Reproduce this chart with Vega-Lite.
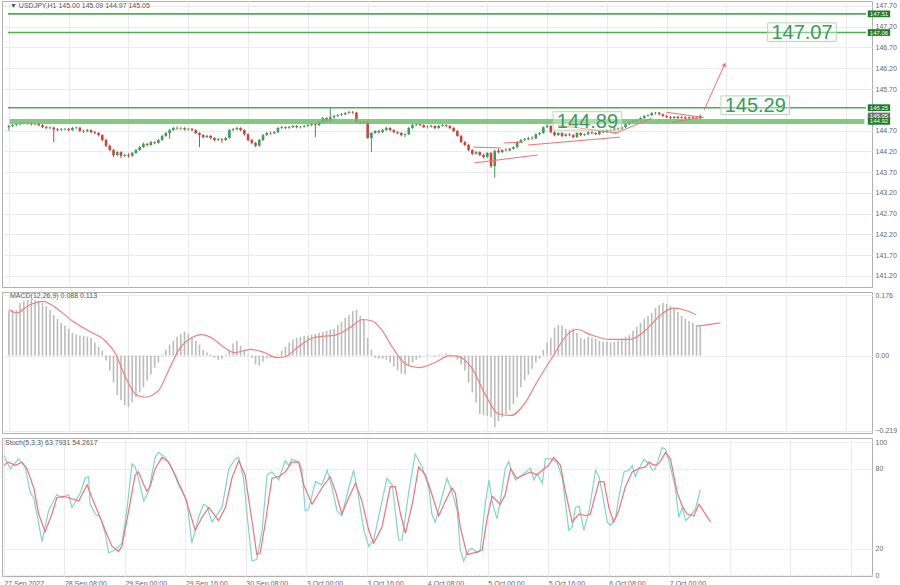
{
"$schema": "https://vega.github.io/schema/vega-lite/v6.json",
"padding": 0,
"background": "white",
"spacing": 2,
"config": {"view": {"stroke": "#b0b0b0", "strokeWidth": 1}, "font": "Liberation Sans", "axis": {"labelOverlap": false}},
"datasets": {
"candles": [
{"i":0,"o":144.78,"h":144.84,"l":144.70,"c":144.81},{"i":1,"o":144.81,"h":144.86,"l":144.78,"c":144.83},{"i":2,"o":144.83,"h":144.88,"l":144.80,"c":144.85},{"i":3,"o":144.85,"h":144.91,"l":144.83,"c":144.88},{"i":4,"o":144.88,"h":144.92,"l":144.85,"c":144.87},
{"i":5,"o":144.87,"h":144.91,"l":144.84,"c":144.88},{"i":6,"o":144.88,"h":144.90,"l":144.82,"c":144.85},{"i":7,"o":144.85,"h":144.88,"l":144.82,"c":144.86},{"i":8,"o":144.86,"h":144.88,"l":144.80,"c":144.83},{"i":9,"o":144.83,"h":144.85,"l":144.76,"c":144.78},
{"i":10,"o":144.78,"h":144.81,"l":144.73,"c":144.76},{"i":11,"o":144.76,"h":144.80,"l":144.72,"c":144.77},{"i":12,"o":144.77,"h":144.79,"l":144.42,"c":144.73},{"i":13,"o":144.73,"h":144.76,"l":144.68,"c":144.71},{"i":14,"o":144.71,"h":144.76,"l":144.69,"c":144.73},
{"i":15,"o":144.73,"h":144.76,"l":144.70,"c":144.74},{"i":16,"o":144.74,"h":144.76,"l":144.68,"c":144.71},{"i":17,"o":144.71,"h":144.79,"l":144.69,"c":144.76},{"i":18,"o":144.76,"h":144.80,"l":144.73,"c":144.77},{"i":19,"o":144.77,"h":144.78,"l":144.66,"c":144.69},
{"i":20,"o":144.69,"h":144.72,"l":144.64,"c":144.68},{"i":21,"o":144.68,"h":144.74,"l":144.66,"c":144.71},{"i":22,"o":144.71,"h":144.73,"l":144.63,"c":144.66},{"i":23,"o":144.66,"h":144.69,"l":144.61,"c":144.64},{"i":24,"o":144.64,"h":144.66,"l":144.56,"c":144.59},
{"i":25,"o":144.59,"h":144.61,"l":144.44,"c":144.47},{"i":26,"o":144.47,"h":144.50,"l":144.30,"c":144.33},{"i":27,"o":144.33,"h":144.36,"l":144.20,"c":144.23},{"i":28,"o":144.23,"h":144.26,"l":144.06,"c":144.11},{"i":29,"o":144.11,"h":144.20,"l":144.08,"c":144.18},
{"i":30,"o":144.18,"h":144.20,"l":144.03,"c":144.09},{"i":31,"o":144.09,"h":144.14,"l":144.06,"c":144.11},{"i":32,"o":144.11,"h":144.15,"l":144.05,"c":144.09},{"i":33,"o":144.09,"h":144.18,"l":144.07,"c":144.16},{"i":34,"o":144.16,"h":144.26,"l":144.14,"c":144.23},
{"i":35,"o":144.23,"h":144.33,"l":144.21,"c":144.30},{"i":36,"o":144.30,"h":144.41,"l":144.28,"c":144.38},{"i":37,"o":144.38,"h":144.40,"l":144.32,"c":144.35},{"i":38,"o":144.35,"h":144.45,"l":144.33,"c":144.42},{"i":39,"o":144.42,"h":144.44,"l":144.37,"c":144.40},
{"i":40,"o":144.40,"h":144.50,"l":144.38,"c":144.47},{"i":41,"o":144.47,"h":144.60,"l":144.45,"c":144.57},{"i":42,"o":144.57,"h":144.67,"l":144.55,"c":144.64},{"i":43,"o":144.64,"h":144.74,"l":144.50,"c":144.71},{"i":44,"o":144.71,"h":144.79,"l":144.69,"c":144.76},
{"i":45,"o":144.76,"h":144.80,"l":144.72,"c":144.75},{"i":46,"o":144.75,"h":144.79,"l":144.71,"c":144.76},{"i":47,"o":144.76,"h":144.78,"l":144.70,"c":144.73},{"i":48,"o":144.73,"h":144.76,"l":144.70,"c":144.74},{"i":49,"o":144.74,"h":144.76,"l":144.68,"c":144.71},
{"i":50,"o":144.71,"h":144.73,"l":144.61,"c":144.64},{"i":51,"o":144.64,"h":144.66,"l":144.30,"c":144.59},{"i":52,"o":144.59,"h":144.61,"l":144.51,"c":144.54},{"i":53,"o":144.54,"h":144.60,"l":144.52,"c":144.57},{"i":54,"o":144.57,"h":144.59,"l":144.49,"c":144.52},
{"i":55,"o":144.52,"h":144.54,"l":144.44,"c":144.47},{"i":56,"o":144.47,"h":144.52,"l":144.45,"c":144.49},{"i":57,"o":144.49,"h":144.51,"l":144.40,"c":144.47},{"i":58,"o":144.47,"h":144.55,"l":144.45,"c":144.52},{"i":59,"o":144.52,"h":144.74,"l":144.50,"c":144.71},
{"i":60,"o":144.71,"h":144.76,"l":144.68,"c":144.73},{"i":61,"o":144.73,"h":144.79,"l":144.71,"c":144.76},{"i":62,"o":144.76,"h":144.78,"l":144.68,"c":144.71},{"i":63,"o":144.71,"h":144.73,"l":144.58,"c":144.61},{"i":64,"o":144.61,"h":144.63,"l":144.44,"c":144.47},
{"i":65,"o":144.47,"h":144.50,"l":144.37,"c":144.40},{"i":66,"o":144.40,"h":144.42,"l":144.30,"c":144.33},{"i":67,"o":144.33,"h":144.50,"l":144.31,"c":144.47},{"i":68,"o":144.47,"h":144.62,"l":144.45,"c":144.59},{"i":69,"o":144.59,"h":144.67,"l":144.57,"c":144.64},
{"i":70,"o":144.64,"h":144.67,"l":144.60,"c":144.63},{"i":71,"o":144.63,"h":144.69,"l":144.61,"c":144.66},{"i":72,"o":144.66,"h":144.79,"l":144.64,"c":144.76},{"i":73,"o":144.76,"h":144.81,"l":144.74,"c":144.78},{"i":74,"o":144.78,"h":144.80,"l":144.73,"c":144.76},
{"i":75,"o":144.76,"h":144.81,"l":144.74,"c":144.78},{"i":76,"o":144.78,"h":144.83,"l":144.76,"c":144.81},{"i":77,"o":144.81,"h":144.83,"l":144.75,"c":144.78},{"i":78,"o":144.78,"h":144.81,"l":144.75,"c":144.79},{"i":79,"o":144.79,"h":144.84,"l":144.77,"c":144.81},
{"i":80,"o":144.81,"h":144.86,"l":144.79,"c":144.83},{"i":81,"o":144.83,"h":144.88,"l":144.81,"c":144.85},{"i":82,"o":144.85,"h":144.87,"l":144.54,"c":144.83},{"i":83,"o":144.83,"h":144.93,"l":144.81,"c":144.90},{"i":84,"o":144.90,"h":145.03,"l":144.88,"c":145.00},
{"i":85,"o":145.00,"h":145.02,"l":144.90,"c":144.93},{"i":86,"o":144.93,"h":145.26,"l":144.90,"c":145.02},{"i":87,"o":145.02,"h":145.08,"l":144.98,"c":145.05},{"i":88,"o":145.05,"h":145.10,"l":145.03,"c":145.07},{"i":89,"o":145.07,"h":145.12,"l":145.05,"c":145.09},
{"i":90,"o":145.09,"h":145.15,"l":145.07,"c":145.12},{"i":91,"o":145.12,"h":145.18,"l":145.10,"c":145.14},{"i":92,"o":145.14,"h":145.17,"l":145.10,"c":145.13},{"i":93,"o":145.13,"h":145.15,"l":144.88,"c":144.90},{"i":94,"o":144.90,"h":144.93,"l":144.85,"c":144.88},
{"i":95,"o":144.88,"h":144.92,"l":144.85,"c":144.90},{"i":96,"o":144.90,"h":144.92,"l":144.50,"c":144.52},{"i":97,"o":144.52,"h":144.66,"l":144.18,"c":144.64},{"i":98,"o":144.64,"h":144.71,"l":144.62,"c":144.69},{"i":99,"o":144.69,"h":144.72,"l":144.63,"c":144.66},
{"i":100,"o":144.66,"h":144.74,"l":144.64,"c":144.71},{"i":101,"o":144.71,"h":144.79,"l":144.69,"c":144.76},{"i":102,"o":144.76,"h":144.78,"l":144.68,"c":144.71},{"i":103,"o":144.71,"h":144.73,"l":144.63,"c":144.66},{"i":104,"o":144.66,"h":144.68,"l":144.61,"c":144.64},
{"i":105,"o":144.64,"h":144.66,"l":144.56,"c":144.59},{"i":106,"o":144.59,"h":144.63,"l":144.54,"c":144.61},{"i":107,"o":144.61,"h":144.79,"l":144.59,"c":144.76},{"i":108,"o":144.76,"h":144.86,"l":144.74,"c":144.83},{"i":109,"o":144.83,"h":144.88,"l":144.81,"c":144.85},
{"i":110,"o":144.85,"h":144.87,"l":144.80,"c":144.83},{"i":111,"o":144.83,"h":144.85,"l":144.76,"c":144.78},{"i":112,"o":144.78,"h":144.82,"l":144.75,"c":144.79},{"i":113,"o":144.79,"h":144.84,"l":144.77,"c":144.81},{"i":114,"o":144.81,"h":144.83,"l":144.73,"c":144.76},
{"i":115,"o":144.76,"h":144.84,"l":144.74,"c":144.81},{"i":116,"o":144.81,"h":144.86,"l":144.79,"c":144.83},{"i":117,"o":144.83,"h":144.85,"l":144.78,"c":144.81},{"i":118,"o":144.81,"h":144.83,"l":144.73,"c":144.76},{"i":119,"o":144.76,"h":144.78,"l":144.66,"c":144.69},
{"i":120,"o":144.69,"h":144.71,"l":144.55,"c":144.57},{"i":121,"o":144.57,"h":144.59,"l":144.40,"c":144.42},{"i":122,"o":144.42,"h":144.45,"l":144.32,"c":144.35},{"i":123,"o":144.35,"h":144.38,"l":144.20,"c":144.23},{"i":124,"o":144.23,"h":144.25,"l":144.11,"c":144.14},
{"i":125,"o":144.14,"h":144.21,"l":144.12,"c":144.18},{"i":126,"o":144.18,"h":144.20,"l":144.08,"c":144.11},{"i":127,"o":144.11,"h":144.14,"l":144.03,"c":144.06},{"i":128,"o":144.06,"h":144.18,"l":144.04,"c":144.16},{"i":129,"o":144.16,"h":144.18,"l":143.80,"c":143.84},
{"i":130,"o":143.84,"h":144.24,"l":143.56,"c":144.21},{"i":131,"o":144.21,"h":144.26,"l":144.15,"c":144.18},{"i":132,"o":144.18,"h":144.25,"l":144.16,"c":144.23},{"i":133,"o":144.23,"h":144.28,"l":144.20,"c":144.22},{"i":134,"o":144.22,"h":144.28,"l":144.20,"c":144.26},
{"i":135,"o":144.26,"h":144.32,"l":144.24,"c":144.30},{"i":136,"o":144.30,"h":144.45,"l":144.28,"c":144.42},{"i":137,"o":144.42,"h":144.50,"l":144.40,"c":144.47},{"i":138,"o":144.47,"h":144.52,"l":144.44,"c":144.49},{"i":139,"o":144.49,"h":144.55,"l":144.47,"c":144.52},
{"i":140,"o":144.52,"h":144.56,"l":144.48,"c":144.51},{"i":141,"o":144.51,"h":144.63,"l":144.49,"c":144.61},{"i":142,"o":144.61,"h":144.66,"l":144.58,"c":144.64},{"i":143,"o":144.64,"h":144.80,"l":144.62,"c":144.78},{"i":144,"o":144.78,"h":144.86,"l":144.76,"c":144.81},
{"i":145,"o":144.81,"h":144.83,"l":144.63,"c":144.66},{"i":146,"o":144.66,"h":144.68,"l":144.56,"c":144.59},{"i":147,"o":144.59,"h":144.66,"l":144.57,"c":144.64},{"i":148,"o":144.64,"h":144.66,"l":144.54,"c":144.57},{"i":149,"o":144.57,"h":144.63,"l":144.55,"c":144.61},
{"i":150,"o":144.61,"h":144.63,"l":144.56,"c":144.59},{"i":151,"o":144.59,"h":144.61,"l":144.51,"c":144.54},{"i":152,"o":144.54,"h":144.66,"l":144.52,"c":144.64},{"i":153,"o":144.64,"h":144.66,"l":144.56,"c":144.59},{"i":154,"o":144.59,"h":144.63,"l":144.57,"c":144.61},
{"i":155,"o":144.61,"h":144.68,"l":144.59,"c":144.66},{"i":156,"o":144.66,"h":144.68,"l":144.61,"c":144.64},{"i":157,"o":144.64,"h":144.66,"l":144.59,"c":144.61},{"i":158,"o":144.61,"h":144.71,"l":144.59,"c":144.69},{"i":159,"o":144.69,"h":144.71,"l":144.63,"c":144.66},
{"i":160,"o":144.66,"h":144.73,"l":144.64,"c":144.71},{"i":161,"o":144.71,"h":144.74,"l":144.68,"c":144.70},{"i":162,"o":144.70,"h":144.78,"l":144.68,"c":144.76},{"i":163,"o":144.76,"h":144.78,"l":144.71,"c":144.73},{"i":164,"o":144.73,"h":144.80,"l":144.71,"c":144.78},
{"i":165,"o":144.78,"h":144.87,"l":144.76,"c":144.85},{"i":166,"o":144.85,"h":144.92,"l":144.83,"c":144.90},{"i":167,"o":144.90,"h":144.95,"l":144.88,"c":144.93},{"i":168,"o":144.93,"h":144.97,"l":144.90,"c":144.95},{"i":169,"o":144.95,"h":145.02,"l":144.93,"c":145.00},
{"i":170,"o":145.00,"h":145.07,"l":144.98,"c":145.05},{"i":171,"o":145.05,"h":145.09,"l":145.03,"c":145.07},{"i":172,"o":145.07,"h":145.15,"l":145.05,"c":145.12},{"i":173,"o":145.12,"h":145.15,"l":145.08,"c":145.13},{"i":174,"o":145.13,"h":145.15,"l":145.07,"c":145.09},
{"i":175,"o":145.09,"h":145.11,"l":145.03,"c":145.05},{"i":176,"o":145.05,"h":145.08,"l":145.00,"c":145.02},{"i":177,"o":145.02,"h":145.05,"l":144.97,"c":145.00},{"i":178,"o":145.00,"h":145.05,"l":144.98,"c":145.03},{"i":179,"o":145.03,"h":145.05,"l":144.97,"c":145.00},
{"i":180,"o":145.00,"h":145.05,"l":144.98,"c":145.02},{"i":181,"o":145.02,"h":145.04,"l":144.97,"c":144.99},{"i":182,"o":144.99,"h":145.04,"l":144.97,"c":145.02},{"i":183,"o":145.02,"h":145.04,"l":144.98,"c":145.00},{"i":184,"o":145.00,"h":145.03,"l":144.97,"c":145.00},
{"i":185,"o":145.00,"h":145.09,"l":144.97,"c":145.05}
],
"macd": [
{"i":0,"m":0.13},{"i":1,"m":0.133},{"i":2,"m":0.133},{"i":3,"m":0.153},{"i":4,"m":0.159},{"i":5,"m":0.162},{"i":6,"m":0.162},{"i":7,"m":0.162},{"i":8,"m":0.159},{"i":9,"m":0.153},
{"i":10,"m":0.144},{"i":11,"m":0.133},{"i":12,"m":0.118},{"i":13,"m":0.107},{"i":14,"m":0.095},{"i":15,"m":0.087},{"i":16,"m":0.078},{"i":17,"m":0.066},{"i":18,"m":0.061},{"i":19,"m":0.058},
{"i":20,"m":0.058},{"i":21,"m":0.055},{"i":22,"m":0.052},{"i":23,"m":0.038},{"i":24,"m":0.026},{"i":25,"m":0.014},{"i":26,"m":-0.014},{"i":27,"m":-0.043},{"i":28,"m":-0.078},{"i":29,"m":-0.115},
{"i":30,"m":-0.13},{"i":31,"m":-0.144},{"i":32,"m":-0.15},{"i":33,"m":-0.136},{"i":34,"m":-0.121},{"i":35,"m":-0.107},{"i":36,"m":-0.092},{"i":37,"m":-0.072},{"i":38,"m":-0.055},{"i":39,"m":-0.035},
{"i":40,"m":-0.02},{"i":41,"m":0.003},{"i":42,"m":0.017},{"i":43,"m":0.032},{"i":44,"m":0.043},{"i":45,"m":0.055},{"i":46,"m":0.063},{"i":47,"m":0.069},{"i":48,"m":0.063},{"i":49,"m":0.052},
{"i":50,"m":0.043},{"i":51,"m":0.032},{"i":52,"m":0.017},{"i":53,"m":0.009},{"i":54,"m":0.003},{"i":55,"m":-0.006},{"i":56,"m":-0.012},{"i":57,"m":-0.009},{"i":58,"m":0.003},{"i":59,"m":0.017},
{"i":60,"m":0.035},{"i":61,"m":0.043},{"i":62,"m":0.029},{"i":63,"m":0.017},{"i":64,"m":0.003},{"i":65,"m":-0.006},{"i":66,"m":-0.026},{"i":67,"m":-0.029},{"i":68,"m":-0.017},{"i":69,"m":-0.009},
{"i":70,"m":-0.006},{"i":71,"m":0.0},{"i":72,"m":0.003},{"i":73,"m":0.014},{"i":74,"m":0.026},{"i":75,"m":0.038},{"i":76,"m":0.046},{"i":77,"m":0.052},{"i":78,"m":0.055},{"i":79,"m":0.058},
{"i":80,"m":0.058},{"i":81,"m":0.061},{"i":82,"m":0.063},{"i":83,"m":0.066},{"i":84,"m":0.069},{"i":85,"m":0.072},{"i":86,"m":0.075},{"i":87,"m":0.078},{"i":88,"m":0.089},{"i":89,"m":0.098},
{"i":90,"m":0.11},{"i":91,"m":0.118},{"i":92,"m":0.13},{"i":93,"m":0.133},{"i":94,"m":0.115},{"i":95,"m":0.104},{"i":96,"m":0.052},{"i":97,"m":0.017},{"i":98,"m":-0.006},{"i":99,"m":-0.009},
{"i":100,"m":-0.009},{"i":101,"m":-0.012},{"i":102,"m":-0.02},{"i":103,"m":-0.032},{"i":104,"m":-0.043},{"i":105,"m":-0.052},{"i":106,"m":-0.055},{"i":107,"m":-0.029},{"i":108,"m":-0.02},{"i":109,"m":-0.012},
{"i":110,"m":-0.006},{"i":111,"m":0.0},{"i":112,"m":0.003},{"i":113,"m":0.0},{"i":114,"m":-0.003},{"i":115,"m":0.003},{"i":116,"m":0.003},{"i":117,"m":0.006},{"i":118,"m":0.003},{"i":119,"m":0.0},
{"i":120,"m":-0.012},{"i":121,"m":-0.026},{"i":122,"m":-0.043},{"i":123,"m":-0.078},{"i":124,"m":-0.107},{"i":125,"m":-0.136},{"i":126,"m":-0.17},{"i":127,"m":-0.173},{"i":128,"m":-0.176},{"i":129,"m":-0.179},
{"i":130,"m":-0.208},{"i":131,"m":-0.19},{"i":132,"m":-0.179},{"i":133,"m":-0.17},{"i":134,"m":-0.159},{"i":135,"m":-0.141},{"i":136,"m":-0.121},{"i":137,"m":-0.092},{"i":138,"m":-0.072},{"i":139,"m":-0.055},
{"i":140,"m":-0.038},{"i":141,"m":-0.02},{"i":142,"m":-0.009},{"i":143,"m":0.017},{"i":144,"m":0.038},{"i":145,"m":0.052},{"i":146,"m":0.081},{"i":147,"m":0.089},{"i":148,"m":0.087},{"i":149,"m":0.078},
{"i":150,"m":0.075},{"i":151,"m":0.078},{"i":152,"m":0.066},{"i":153,"m":0.052},{"i":154,"m":0.049},{"i":155,"m":0.055},{"i":156,"m":0.052},{"i":157,"m":0.049},{"i":158,"m":0.043},{"i":159,"m":0.04},
{"i":160,"m":0.04},{"i":161,"m":0.038},{"i":162,"m":0.04},{"i":163,"m":0.043},{"i":164,"m":0.049},{"i":165,"m":0.055},{"i":166,"m":0.061},{"i":167,"m":0.072},{"i":168,"m":0.084},{"i":169,"m":0.095},
{"i":170,"m":0.107},{"i":171,"m":0.115},{"i":172,"m":0.124},{"i":173,"m":0.138},{"i":174,"m":0.147},{"i":175,"m":0.153},{"i":176,"m":0.15},{"i":177,"m":0.144},{"i":178,"m":0.136},{"i":179,"m":0.127},
{"i":180,"m":0.115},{"i":181,"m":0.107},{"i":182,"m":0.101},{"i":183,"m":0.095},{"i":184,"m":0.09},{"i":185,"m":0.088}
],
"signal": [
{"i":0,"s":0.134},{"i":2.1,"s":0.124},{"i":5.6,"s":0.148},{"i":9.2,"s":0.158},{"i":12.7,"s":0.138},{"i":17.1,"s":0.1},{"i":21.5,"s":0.071},{"i":25.9,"s":0.042},{"i":28.6,"s":0.004},{"i":31.2,"s":-0.063},
{"i":33.9,"s":-0.112},{"i":36.5,"s":-0.121},{"i":40.0,"s":-0.102},{"i":42.7,"s":-0.044},{"i":45.3,"s":0.014},{"i":48.9,"s":0.052},{"i":51.5,"s":0.061},{"i":54.2,"s":0.052},{"i":57.7,"s":0.023},{"i":60.3,"s":0.009},
{"i":64.7,"s":0.018},{"i":68.3,"s":0.009},{"i":71.8,"s":-0.006},{"i":74.4,"s":-0.001},{"i":77.1,"s":0.023},{"i":81.5,"s":0.052},{"i":87.7,"s":0.061},{"i":91.2,"s":0.081},{"i":94.7,"s":0.105},{"i":97.4,"s":0.1},
{"i":100.0,"s":0.071},{"i":102.7,"s":0.023},{"i":106.2,"s":-0.025},{"i":109.7,"s":-0.035},{"i":114.1,"s":-0.02},{"i":117.7,"s":-0.001},{"i":119.4,"s":-0.001},{"i":123.8,"s":-0.035},{"i":127.4,"s":-0.112},{"i":130.9,"s":-0.169},
{"i":134.4,"s":-0.174},{"i":137.9,"s":-0.141},{"i":141.5,"s":-0.073},{"i":145.9,"s":0.004},{"i":149.4,"s":0.061},{"i":152.1,"s":0.076},{"i":155.6,"s":0.061},{"i":160.9,"s":0.047},{"i":166.2,"s":0.047},{"i":170.6,"s":0.076},
{"i":174.1,"s":0.115},{"i":177.6,"s":0.138},{"i":180.3,"s":0.134},{"i":183.8,"s":0.119}
],
"proj": [{"i":184.2,"s":0.086},{"i":190.4,"s":0.095}],
"stochK": [
{"i":0,"v":89.8},{"i":1.7,"v":80},{"i":3.9,"v":87.3},{"i":5.6,"v":81.3},{"i":7.0,"v":61.8},{"i":7.9,"v":58.2},{"i":10.1,"v":25.3},{"i":11.8,"v":48.4},{"i":14.0,"v":60.6},{"i":15.3,"v":58.2},
{"i":17.1,"v":60.6},{"i":18.0,"v":50.9},{"i":20.2,"v":61.8},{"i":21.5,"v":72.8},{"i":22.4,"v":74},{"i":22.8,"v":53.3},{"i":24.2,"v":46},{"i":25.5,"v":43.6},{"i":26.8,"v":31.4},{"i":27.7,"v":16.8},
{"i":29.5,"v":19.2},{"i":31.2,"v":24.1},{"i":32.5,"v":48.4},{"i":33.9,"v":83.7},{"i":34.7,"v":81.3},{"i":35.6,"v":72.8},{"i":37.0,"v":55.7},{"i":38.3,"v":63},{"i":40.0,"v":88.5},{"i":40.9,"v":92.2},
{"i":42.7,"v":88.5},{"i":44.5,"v":80},{"i":46.2,"v":67.9},{"i":48.4,"v":55.7},{"i":49.7,"v":24.1},{"i":51.5,"v":43.6},{"i":52.8,"v":53.3},{"i":53.7,"v":52},{"i":55.0,"v":39.9},{"i":55.9,"v":43.6},
{"i":57.7,"v":50.9},{"i":59.5,"v":80},{"i":61.2,"v":87.3},{"i":62.1,"v":88.5},{"i":63.4,"v":72.8},{"i":64.3,"v":46},{"i":65.6,"v":10.7},{"i":66.9,"v":11.9},{"i":68.3,"v":33.8},{"i":69.6,"v":75.2},
{"i":70.9,"v":77.6},{"i":72.7,"v":71.5},{"i":74.4,"v":86.1},{"i":75.3,"v":82.5},{"i":76.2,"v":87.3},{"i":78.0,"v":84.9},{"i":78.8,"v":80},{"i":79.7,"v":48.4},{"i":80.6,"v":49.6},{"i":82.4,"v":70.3},
{"i":84.1,"v":67.9},{"i":85.5,"v":78.8},{"i":86.8,"v":65.5},{"i":88.1,"v":48.4},{"i":89.4,"v":44.7},{"i":91.2,"v":65.5},{"i":92.5,"v":78.8},{"i":93.4,"v":65.5},{"i":95.2,"v":33.8},{"i":96.5,"v":21.7},
{"i":97.8,"v":26.5},{"i":100.0,"v":55.7},{"i":101.3,"v":72.8},{"i":102.7,"v":67.9},{"i":104.4,"v":26.5},{"i":105.3,"v":26.5},{"i":107.1,"v":63},{"i":108.8,"v":91},{"i":110.6,"v":81.3},{"i":112.4,"v":65.5},
{"i":113.2,"v":46},{"i":114.1,"v":39.9},{"i":115.9,"v":59.3},{"i":117.2,"v":72.8},{"i":118.5,"v":63},{"i":119.9,"v":48.4},{"i":120.7,"v":19.2},{"i":121.6,"v":10.7},{"i":123.0,"v":19.2},{"i":123.8,"v":20.4},
{"i":125.2,"v":16.8},{"i":126.0,"v":19.2},{"i":127.4,"v":55.7},{"i":128.3,"v":71.5},{"i":129.1,"v":55.7},{"i":130.4,"v":42.3},{"i":131.3,"v":55.7},{"i":132.6,"v":80},{"i":133.5,"v":85.4},{"i":134.4,"v":77.6},
{"i":135.3,"v":71.5},{"i":137.1,"v":75.2},{"i":139.3,"v":80.5},{"i":140.2,"v":71.5},{"i":141.0,"v":76.4},{"i":142.4,"v":69.1},{"i":143.2,"v":87.3},{"i":144.6,"v":87.3},{"i":146.3,"v":84.9},{"i":147.7,"v":72.8},
{"i":149.4,"v":33.8},{"i":150.3,"v":36.3},{"i":151.2,"v":50.9},{"i":152.1,"v":52},{"i":153.4,"v":33.8},{"i":154.7,"v":47.2},{"i":156.5,"v":78.8},{"i":157.4,"v":73.9},{"i":158.2,"v":63},{"i":159.6,"v":39.9},
{"i":160.4,"v":37.4},{"i":161.8,"v":43.6},{"i":162.6,"v":58.2},{"i":164.0,"v":77.6},{"i":165.3,"v":78.8},{"i":166.2,"v":82.5},{"i":167.0,"v":73.9},{"i":167.9,"v":80},{"i":169.3,"v":86.9},{"i":170.6,"v":83.7},
{"i":171.5,"v":78.8},{"i":172.3,"v":80},{"i":174.1,"v":95.8},{"i":175.0,"v":94.7},{"i":176.3,"v":81.3},{"i":177.6,"v":65.5},{"i":178.5,"v":43.6},{"i":179.4,"v":50.9},{"i":180.3,"v":41.1},{"i":181.6,"v":44.7},
{"i":182.9,"v":49.6},{"i":184.2,"v":64.2}
],
"stochD": [
{"i":0,"v":82.5},{"i":1.2,"v":84.9},{"i":3.0,"v":82.5},{"i":4.8,"v":84.9},{"i":6.1,"v":80},{"i":7.9,"v":65.5},{"i":9.2,"v":46},{"i":10.9,"v":32.6},{"i":12.7,"v":46},{"i":14.0,"v":58.2},
{"i":15.8,"v":59.3},{"i":17.1,"v":58.2},{"i":19.8,"v":55.7},{"i":22.0,"v":67.9},{"i":23.3,"v":58.2},{"i":25.1,"v":46},{"i":26.8,"v":33.8},{"i":28.6,"v":21.7},{"i":30.3,"v":18},{"i":31.2,"v":21.7},
{"i":33.0,"v":48.4},{"i":34.7,"v":75.2},{"i":35.6,"v":77.6},{"i":37.0,"v":67.9},{"i":37.8,"v":63},{"i":38.7,"v":66.6},{"i":40.0,"v":80},{"i":41.8,"v":88.5},{"i":43.6,"v":84.9},{"i":45.3,"v":75.2},
{"i":48.0,"v":58.2},{"i":50.6,"v":33.8},{"i":52.4,"v":43.6},{"i":54.2,"v":50.9},{"i":56.8,"v":41.1},{"i":58.6,"v":50.9},{"i":60.3,"v":72.8},{"i":62.1,"v":86.1},{"i":63.8,"v":75.2},{"i":65.6,"v":41.1},
{"i":66.9,"v":15.5},{"i":67.8,"v":16.8},{"i":69.1,"v":38.7},{"i":70.9,"v":72.8},{"i":72.7,"v":74},{"i":74.4,"v":77.6},{"i":76.2,"v":84.9},{"i":78.0,"v":84.9},{"i":79.3,"v":67.9},{"i":81.5,"v":53.3},
{"i":84.1,"v":65.5},{"i":86.3,"v":74},{"i":87.7,"v":63},{"i":89.4,"v":46},{"i":91.2,"v":58.2},{"i":93.0,"v":69.1},{"i":94.7,"v":55.7},{"i":96.5,"v":33.8},{"i":97.8,"v":24.1},{"i":100.0,"v":36.3},
{"i":102.2,"v":66.6},{"i":103.5,"v":66.6},{"i":104.9,"v":46},{"i":106.2,"v":31.4},{"i":108.0,"v":53.3},{"i":109.7,"v":81.3},{"i":111.5,"v":75.2},{"i":113.2,"v":60.6},{"i":115.0,"v":44.7},{"i":116.8,"v":55.7},
{"i":118.5,"v":65.5},{"i":119.4,"v":61.8},{"i":120.7,"v":36.3},{"i":122.5,"v":15.5},{"i":124.3,"v":16.8},{"i":125.6,"v":18},{"i":126.5,"v":19.2},{"i":127.8,"v":42.3},{"i":129.1,"v":59.3},{"i":131.3,"v":53.3},
{"i":132.6,"v":60.6},{"i":134.0,"v":80},{"i":135.7,"v":72.8},{"i":137.5,"v":75.2},{"i":139.3,"v":77.6},{"i":141.0,"v":75.2},{"i":142.4,"v":78.8},{"i":144.1,"v":82.5},{"i":145.4,"v":88.5},{"i":147.2,"v":82.5},
{"i":148.5,"v":63},{"i":150.3,"v":39.9},{"i":152.1,"v":46},{"i":153.8,"v":44.7},{"i":155.1,"v":46},{"i":157.4,"v":70.3},{"i":158.7,"v":70.3},{"i":160.0,"v":50.9},{"i":161.3,"v":39.9},{"i":162.6,"v":48.4},
{"i":164.4,"v":66.6},{"i":166.2,"v":77.6},{"i":167.9,"v":80},{"i":169.7,"v":81.3},{"i":170.6,"v":84.9},{"i":171.9,"v":82.5},{"i":173.2,"v":83.7},{"i":175.0,"v":92.2},{"i":176.3,"v":87.3},{"i":178.1,"v":61.8},
{"i":179.4,"v":52},{"i":180.7,"v":46},{"i":182.5,"v":44.7},{"i":183.8,"v":53.3},{"i":184.7,"v":49.6},{"i":186.9,"v":39.9}
],
"trend": [
{"i1":124.3,"p1":144.30,"i2":131.7,"p2":144.28},
{"i1":124.6,"p1":143.92,"i2":141.5,"p2":144.11},
{"i1":132.5,"p1":144.40,"i2":137.6,"p2":144.42},
{"i1":146.8,"p1":144.83,"i2":162.7,"p2":144.64},
{"i1":138.9,"p1":144.35,"i2":163.5,"p2":144.54},
{"i1":162.0,"p1":144.62,"i2":172.0,"p2":145.00},
{"i1":175.9,"p1":145.14,"i2":185.4,"p2":145.02},
{"i1":177.5,"p1":144.90,"i2":186.0,"p2":145.02},
{"i1":186.0,"p1":145.19,"i2":191.5,"p2":146.29}
],
"labels": [
{"i":212.2,"p":147.07,"t":"147.07"},
{"i":199.7,"p":145.31,"t":"145.29"},
{"i":154.8,"p":144.93,"t":"144.89"}
],
"tags": [
{"p":147.51,"t":"147.51","k":"level"},
{"p":147.06,"t":"147.06","k":"level"},
{"p":145.25,"t":"145.25","k":"level"},
{"p":145.05,"t":"145.05","k":"bid"},
{"p":144.92,"t":"144.92","k":"level"}
]
},
"vconcat": [
{
"width": 870, "height": 286,
"layer": [
{"data": {"name": "candles"}, "mark": {"type": "rule", "strokeWidth": 1},
 "encoding": {
  "x": {"field": "i", "type": "quantitative", "scale": {"domain": [-0.5, 229.6], "nice": false, "zero": false},
        "axis": {"values": [0,16,32,48,64,80,96,112,128,144,160,176,192,208,224], "tickCount": 30, "labels": false, "ticks": false, "domain": false, "title": null, "grid": true, "gridColor": "#ebebeb"}},
  "y": {"field": "l", "type": "quantitative", "scale": {"domain": [140.93, 147.82], "nice": false, "zero": false},
        "axis": {"orient": "right", "values": [141.2,141.7,142.2,142.7,143.2,143.7,144.2,144.7,145.7,146.2,146.7,147.2,147.7], "tickCount": 30, "format": ".2f", "labelOverlap": false, "title": null, "grid": true, "gridColor": "#ebebeb", "ticks": false, "domain": false, "labelFontSize": 7, "labelColor": "#666", "labelPadding": 3}},
  "y2": {"field": "h"},
  "color": {"condition": {"test": "datum.c >= datum.o", "value": "#3f9a5c"}, "value": "#c8473d"}
 }},
{"data": {"name": "candles"}, "mark": {"type": "bar", "size": 2.6},
 "encoding": {
  "x": {"field": "i", "type": "quantitative", "axis": {"title": null}},
  "y": {"field": "o", "type": "quantitative", "axis": {"title": null}},
  "y2": {"field": "c"},
  "color": {"condition": {"test": "datum.c >= datum.o", "value": "#3f9a5c"}, "value": "#c8473d"}
 }},
{"data": {"values": [{"p": 147.51}, {"p": 147.06}, {"p": 145.25}]}, "mark": {"type": "rule", "color": "#4fae50", "strokeWidth": 1.6},
 "encoding": {
  "x": {"datum": -0.25, "type": "quantitative"},
  "x2": {"datum": 229.35},
  "y": {"field": "p", "type": "quantitative", "axis": {"title": null}}}},
{"data": {"values": [{"p": 144.92}]}, "mark": {"type": "rule", "color": "#6cbf6c", "strokeWidth": 5, "opacity": 0.85},
 "encoding": {
  "x": {"datum": 0.2, "type": "quantitative"},
  "x2": {"datum": 228.9},
  "y": {"field": "p", "type": "quantitative", "axis": {"title": null}}}},
{"data": {"name": "trend"}, "mark": {"type": "rule", "color": "#f07070", "strokeWidth": 1},
 "encoding": {
  "x": {"field": "i1", "type": "quantitative", "axis": {"title": null}},
  "x2": {"field": "i2"},
  "y": {"field": "p1", "type": "quantitative", "axis": {"title": null}},
  "y2": {"field": "p2"}
 }},
{"data": {"values": [{"i": 191.5, "p": 146.29}]}, "mark": {"type": "point", "shape": "triangle-up", "filled": true, "color": "#f07070", "size": 22, "angle": 25, "opacity": 1},
 "encoding": {
  "x": {"field": "i", "type": "quantitative", "axis": {"title": null}},
  "y": {"field": "p", "type": "quantitative", "axis": {"title": null}}
 }},
{"data": {"name": "labels"}, "mark": {"type": "point", "shape": "M-1,-0.27L1,-0.27L1,0.27L-1,0.27Z", "size": 4700, "filled": true, "fill": "#ffffff", "fillOpacity": 0.35, "stroke": "#b7d7b7", "strokeWidth": 1, "opacity": 1},
 "encoding": {
  "x": {"field": "i", "type": "quantitative", "axis": {"title": null}},
  "y": {"field": "p", "type": "quantitative", "axis": {"title": null}}
 }},
{"data": {"name": "labels"}, "mark": {"type": "text", "fontSize": 20, "color": "#3c9a5c", "align": "center", "baseline": "middle", "dy": 1},
 "encoding": {
  "x": {"field": "i", "type": "quantitative", "axis": {"title": null}},
  "y": {"field": "p", "type": "quantitative", "axis": {"title": null}},
  "text": {"field": "t"}
 }},
{"data": {"name": "tags"}, "mark": {"type": "point", "shape": "M-1,-0.3L1,-0.3L1,0.3L-1,0.3Z", "size": 500, "filled": true, "opacity": 1},
 "encoding": {
  "x": {"datum": 232.8, "type": "quantitative"},
  "y": {"field": "p", "type": "quantitative", "axis": {"title": null}},
  "color": {"field": "k", "type": "nominal", "scale": {"domain": ["level", "bid"], "range": ["#1f7d2a", "#707070"]}, "legend": null}
 }},
{"data": {"name": "tags"}, "mark": {"type": "text", "fontSize": 6, "color": "white", "align": "center", "baseline": "middle"},
 "encoding": {
  "x": {"datum": 232.8, "type": "quantitative"},
  "y": {"field": "p", "type": "quantitative", "axis": {"title": null}},
  "text": {"field": "t"}
 }},
{"data": {"values": [{"t": "▼  USDJPY,H1  145.00 145.09 144.97 145.05"}]}, "mark": {"type": "text", "fontSize": 7, "color": "#555", "align": "left", "baseline": "middle"},
 "encoding": {
  "x": {"datum": 0.3, "type": "quantitative"},
  "y": {"datum": 147.7, "type": "quantitative"},
  "text": {"field": "t"}
 }}
]
},
{
"width": 870, "height": 141,
"layer": [
{"data": {"name": "macd"}, "mark": {"type": "bar", "size": 1.6, "color": "#bcbcbc"},
 "encoding": {
  "x": {"field": "i", "type": "quantitative", "scale": {"domain": [-0.5, 229.6], "nice": false, "zero": false},
        "axis": {"values": [0,16,32,48,64,80,96,112,128,144,160,176,192,208,224], "tickCount": 30, "labels": false, "ticks": false, "domain": false, "title": null, "grid": true, "gridColor": "#ebebeb"}},
  "y": {"field": "m", "type": "quantitative", "scale": {"domain": [-0.225, 0.185], "nice": false, "zero": false},
        "axis": {"orient": "right", "values": [0.176, 0, -0.219], "tickCount": 10, "labelExpr": "datum.value == 0 ? '0.00' : format(datum.value, '.3f')", "title": null, "grid": true, "gridColor": "#ebebeb", "ticks": false, "domain": false, "labelFontSize": 7, "labelColor": "#666", "labelPadding": 3}},
  "y2": {"datum": 0}
 }},
{"data": {"name": "signal"}, "mark": {"type": "line", "color": "#f27f7f", "strokeWidth": 1.2, "interpolate": "monotone"},
 "encoding": {
  "x": {"field": "i", "type": "quantitative", "axis": {"title": null}},
  "y": {"field": "s", "type": "quantitative", "axis": {"title": null}}
 }},
{"data": {"name": "proj"}, "mark": {"type": "line", "color": "#f27f7f", "strokeWidth": 1.2},
 "encoding": {
  "x": {"field": "i", "type": "quantitative", "axis": {"title": null}},
  "y": {"field": "s", "type": "quantitative", "axis": {"title": null}}
 }},
{"data": {"values": [{"t": "MACD(12,26,9) 0.088 0.113"}]}, "mark": {"type": "text", "fontSize": 7, "color": "#555", "align": "left", "baseline": "middle"},
 "encoding": {
  "x": {"datum": 0.3, "type": "quantitative"},
  "y": {"datum": 0.174, "type": "quantitative"},
  "text": {"field": "t"}
 }}
]
},
{
"width": 870, "height": 138,
"layer": [
{"data": {"name": "stochK"}, "mark": {"type": "line", "color": "#7fd6cf", "strokeWidth": 1.2},
 "encoding": {
  "x": {"field": "i", "type": "quantitative", "scale": {"domain": [-0.5, 229.6], "nice": false, "zero": false},
        "axis": {"values": [0,16,32,48,64,80,96,112,128,144,160,176,192,208,224], "tickCount": 30, "labelExpr": "['27 Sep 2022','28 Sep 08:00','29 Sep 00:00','29 Sep 16:00','30 Sep 08:00','3 Oct 00:00','3 Oct 16:00','4 Oct 08:00','5 Oct 00:00','5 Oct 16:00','6 Oct 08:00','7 Oct 00:00'][round(datum.value/16)] || ''", "labelAlign": "left", "labelFontSize": 7, "labelColor": "#666", "labelPadding": 3, "labelFlush": false, "ticks": false, "domain": false, "title": null, "grid": true, "gridColor": "#ebebeb"}},
  "y": {"field": "v", "type": "quantitative", "scale": {"domain": [-0.5, 103], "nice": false, "zero": false},
        "axis": {"orient": "right", "values": [0, 20, 80, 100], "tickCount": 10, "title": null, "grid": true, "gridColor": "#e4e4e4", "gridDash": [2, 2], "ticks": false, "domain": false, "labelFontSize": 7, "labelColor": "#666", "labelPadding": 3}}
 }},
{"data": {"name": "stochD"}, "mark": {"type": "line", "color": "#f27373", "strokeWidth": 1.2},
 "encoding": {
  "x": {"field": "i", "type": "quantitative", "axis": {"title": null}},
  "y": {"field": "v", "type": "quantitative", "axis": {"title": null}}
 }},
{"data": {"values": [{"t": "Stoch(5,3,3) 63.7931 54.2617"}]}, "mark": {"type": "text", "fontSize": 7, "color": "#555", "align": "left", "baseline": "middle"},
 "encoding": {
  "x": {"datum": 0.3, "type": "quantitative"},
  "y": {"datum": 99.5, "type": "quantitative"},
  "text": {"field": "t"}
 }}
]
}
]
}
